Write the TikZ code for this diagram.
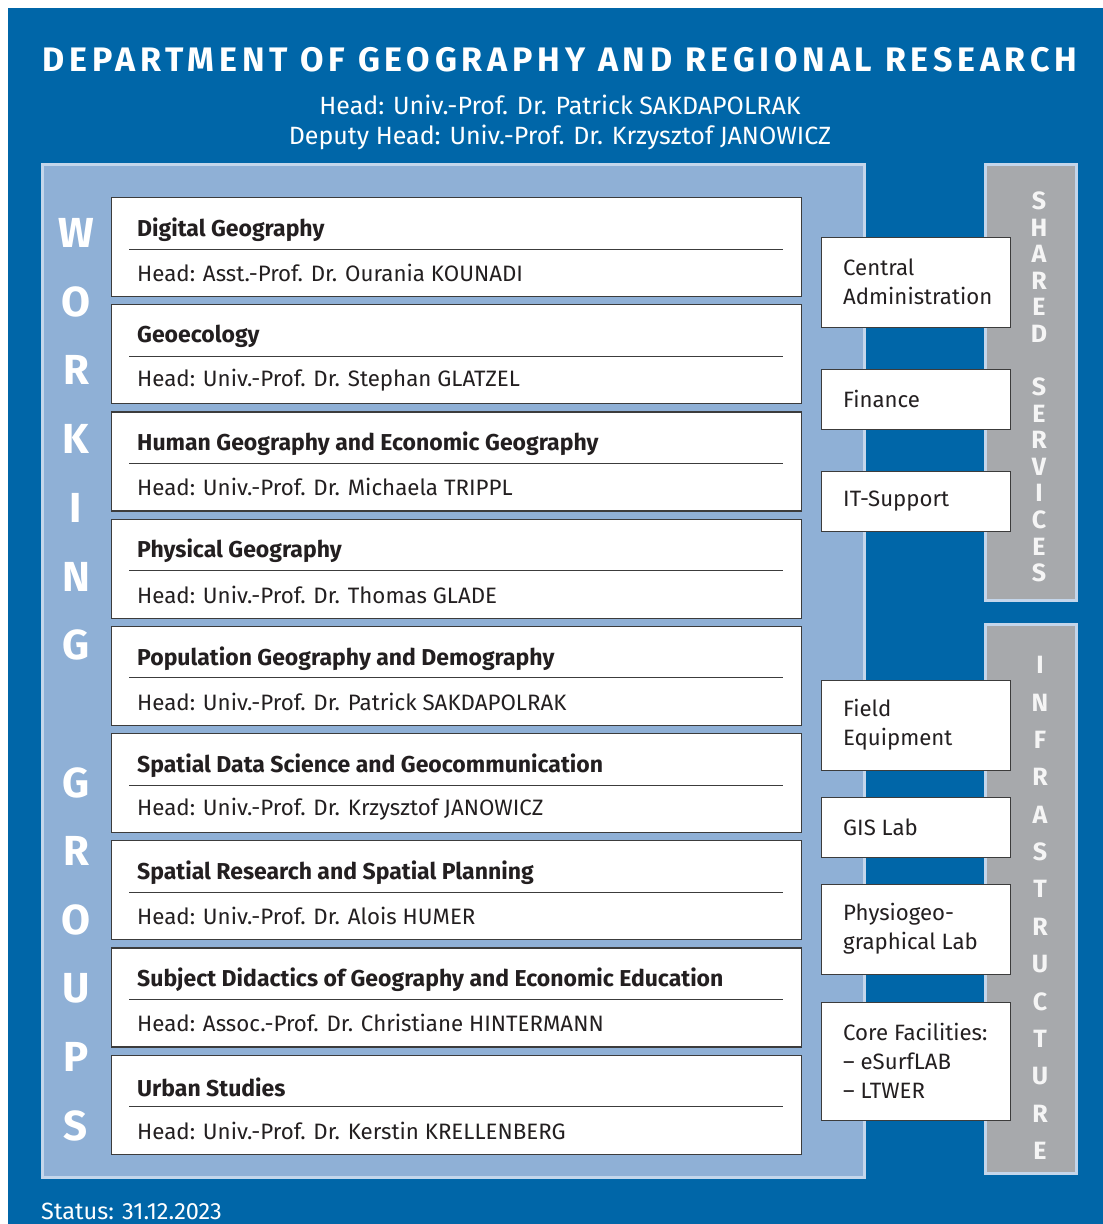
\documentclass[tikz,border=0pt]{standalone}
\usepackage{fontspec}
\setmainfont{Fira Sans}
\definecolor{deptblue}{RGB}{0,102,168}
\definecolor{panelblue}{RGB}{143,176,214}
\definecolor{paneledge}{RGB}{196,214,235}
\definecolor{graycol}{RGB}{167,169,172}
\definecolor{boxedge}{RGB}{60,60,60}
\definecolor{ink}{RGB}{35,31,32}
\begin{document}
\begin{tikzpicture}[x=1pt,y=-1pt,
  grpbox/.style={draw=boxedge, line width=1.2pt, fill=white, minimum width=690pt, minimum height=99pt, anchor=north west, inner sep=0pt},
  svcbox/.style={draw=boxedge, line width=1.2pt, fill=white, minimum width=189pt, anchor=north west, inner sep=0pt},
  grptitle/.style={anchor=west, inner sep=0pt, text=ink, font=\fontsize{23}{27}\selectfont\bfseries},
  grphead/.style={anchor=west, inner sep=0pt, text=ink, font=\fontsize{22.3}{26}\selectfont},
  svctext/.style={anchor=west, inner sep=0pt, text=ink, align=left, font=\fontsize{22.2}{29}\selectfont},
  bigletter/.style={inner sep=0pt, text=white, font=\fontsize{42}{42}\selectfont\bfseries},
  colletter/.style={inner sep=0pt, text=white!96!black, font=\fontsize{25}{25}\selectfont\bfseries},
  sepline/.style={draw=boxedge, line width=1pt},
  column/.style={draw=paneledge, line width=3pt, fill=graycol}
]
\useasboundingbox (0,0) rectangle (1103,1224);
\fill[deptblue] (8,8) rectangle (1103,1224);

% header
\node[text=white, inner sep=0pt, font=\fontsize{34}{34}\selectfont\bfseries\addfontfeatures{LetterSpace=14}] (title) at (560,60) {DEPARTMENT OF GEOGRAPHY AND REGIONAL RESEARCH};
\node[text=white, inner sep=0pt, font=\fontsize{25}{29}\selectfont] (head) at (560,105) {Head: Univ.-Prof. Dr. Patrick SAKDAPOLRAK};
\node[text=white, inner sep=0pt, font=\fontsize{25}{29}\selectfont] (deputy) at (560,137) {Deputy Head: Univ.-Prof. Dr. Krzysztof JANOWICZ};

% panels
\draw[draw=paneledge, line width=3pt, fill=panelblue] (42.5,164.5) rectangle (864.5,1177.5);
\draw[column] (985.5,164.5) rectangle (1076.5,600.5);
\draw[column] (985.5,624.5) rectangle (1076.5,1173.5);

% vertical letters
\foreach \l/\k in {W/0,O/1,R/2,K/3,I/4,N/5,G/6,G/8,R/9,O/10,U/11,P/12,S/13}
  \node[bigletter] (wg\k) at (76,{233+68.7*\k}) {\l};
\foreach \l/\k in {S/0,H/1,A/2,R/3,E/4,D/5,S/7,E/8,R/9,V/10,I/11,C/12,E/13,S/14}
  \node[colletter] (ss\k) at (1039,{201+26.57*\k}) {\l};
\foreach \l/\k in {I/0,N/1,F/2,R/3,A/4,S/5,T/6,R/7,U/8,C/9,T/10,U/11,R/12,E/13}
  \node[colletter] (in\k) at (1040,{665+37.38*\k}) {\l};

% groups
\foreach \t/\h [count=\i from 0] in {
  {Digital Geography}/{Head: Asst.-Prof. Dr. Ourania KOUNADI},
  {Geoecology}/{Head: Univ.-Prof. Dr. Stephan GLATZEL},
  {Human Geography and Economic Geography}/{Head: Univ.-Prof. Dr. Michaela TRIPPL},
  {Physical Geography}/{Head: Univ.-Prof. Dr. Thomas GLADE},
  {Population Geography and Demography}/{Head: Univ.-Prof. Dr. Patrick SAKDAPOLRAK},
  {Spatial Data Science and Geocommunication}/{Head: Univ.-Prof. Dr. Krzysztof JANOWICZ},
  {Spatial Research and Spatial Planning}/{Head: Univ.-Prof. Dr. Alois HUMER},
  {Subject Didactics of Geography and Economic Education}/{Head: Assoc.-Prof. Dr. Christiane HINTERMANN},
  {Urban Studies}/{Head: Univ.-Prof. Dr. Kerstin KRELLENBERG}} {
  \pgfmathsetmacro{\ytop}{197+107.2*\i}
  \node[grpbox] (g\i) at (111,\ytop) {};
  \node[grptitle] (gt\i) at (137,\ytop+32.5) {\t};
  \node[grphead] (gh\i) at (137,\ytop+76) {\h};
  \coordinate (gl\i) at (129,\ytop+52);
  \coordinate (gr\i) at (783,\ytop+52);
  \draw[sepline] (gl\i) -- (gr\i);
}

% services
\node[svcbox, minimum height=90pt] (admin) at (821,237) {};
\node[svctext] (admint) at (843,282) {Central\\Administration};
\node[svcbox, minimum height=60pt] (fin) at (821,369) {};
\node[svctext] (fint) at (843,399) {Finance};
\node[svcbox, minimum height=60pt] (it) at (821,471) {};
\node[svctext] (itt) at (843,501) {IT-Support};
\node[svcbox, minimum height=90pt] (field) at (821,680) {};
\node[svctext] (fieldt) at (843,725) {Field\\Equipment};
\node[svcbox, minimum height=60pt] (gis) at (821,797) {};
\node[svctext] (gist) at (843,827) {GIS Lab};
\node[svcbox, minimum height=90pt] (phys) at (821,884) {};
\node[svctext] (physt) at (843,929) {Physiogeo-\\graphical Lab};
\node[svcbox, minimum height=118pt] (core) at (821,1002) {};
\node[svctext] (coret) at (843,1061) {Core Facilities:\\– eSurfLAB\\– LTWER};

\node[anchor=west, inner sep=0pt, text=white, font=\fontsize{23.5}{27}\selectfont] (status) at (41,1211) {Status: 31.12.2023};
\end{tikzpicture}
\end{document}
